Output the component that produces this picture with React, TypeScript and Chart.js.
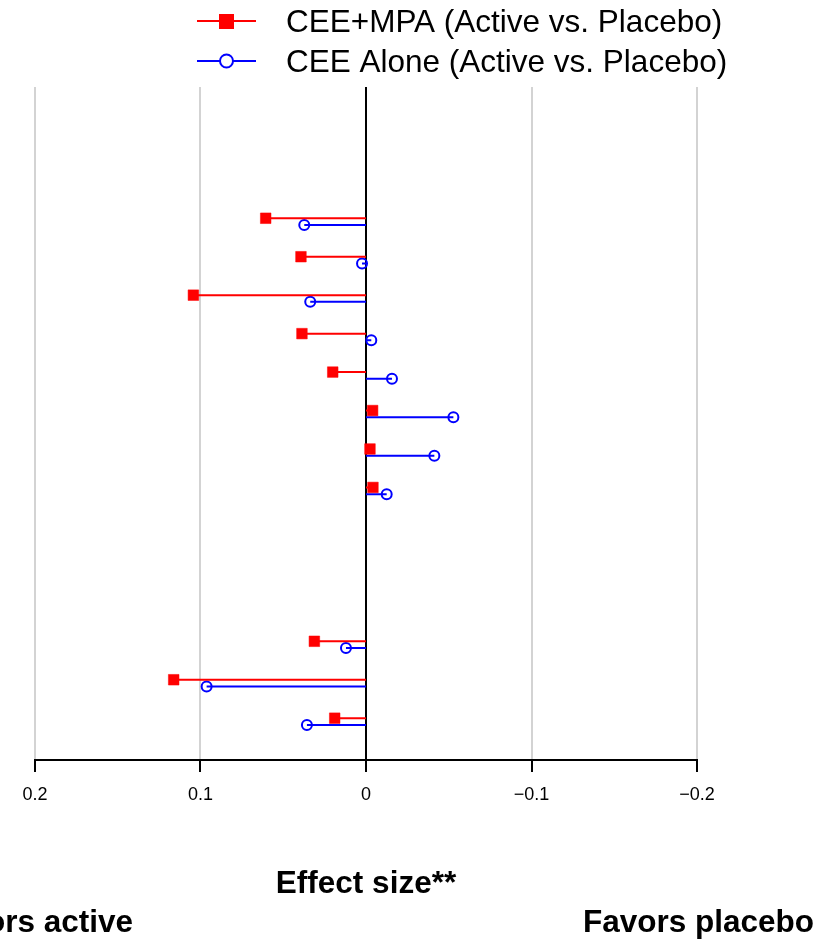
import React, { useEffect, useRef } from "react";
import { Chart, registerables } from "chart.js";

Chart.register(...registerables);

// Rows from top to bottom; null = empty row (no estimate shown)
const ceeMpaValues: (number | null)[] = [
  null, null, null,
  0.0606, 0.0393, 0.1043, 0.0387, 0.0201, -0.004, -0.0024, -0.0042,
  null, null, null,
  0.0312, 0.1162, 0.0189,
];
const ceeAloneValues: (number | null)[] = [
  null, null, null,
  0.0373, 0.0024, 0.0337, -0.0032, -0.0157, -0.0528, -0.0413, -0.0125,
  null, null, null,
  0.0121, 0.0963, 0.0357,
];
const seriesNames = ["CEE+MPA (Active vs. Placebo)", "CEE Alone (Active vs. Placebo)"];
const seriesColors = ["#ff0000", "#0000ff"];
const xTickValues = [0.2, 0.1, 0, -0.1, -0.2];
const xTickLabels = ["0.2", "0.1", "0", "\u22120.1", "\u22120.2"];
const xTitle = "Effect size**";
const leftNote = "Favors active";
const rightNote = "Favors placebo";

const FONT = "'Liberation Sans', Arial, Helvetica, sans-serif";

function buildSegments(vals: (number | null)[], offset: number) {
  const out: { x: number | null; y: number | null }[] = [];
  vals.forEach((v, i) => {
    if (v === null) return;
    out.push({ x: 0, y: i + offset }, { x: v, y: i + offset }, { x: null, y: null });
  });
  return out;
}

const textPlugin = {
  id: "textPlugin",
  afterDraw(chart: any) {
    const ctx = chart.ctx as CanvasRenderingContext2D;
    const area = chart.chartArea;
    ctx.save();
    // legend
    const rows = [32, 72];
    const markerY = [21, 61];
    for (let k = 0; k < 2; k++) {
      const y = markerY[k];
      ctx.strokeStyle = seriesColors[k];
      ctx.lineWidth = 2;
      ctx.beginPath();
      ctx.moveTo(197, y);
      ctx.lineTo(256, y);
      ctx.stroke();
      if (k === 0) {
        ctx.fillStyle = seriesColors[k];
        ctx.fillRect(219, y - 7, 15, 15);
      } else {
        ctx.fillStyle = "#ffffff";
        ctx.beginPath();
        ctx.arc(226.5, y, 6.5, 0, Math.PI * 2);
        ctx.fill();
        ctx.stroke();
      }
      ctx.fillStyle = "#000";
      ctx.font = `31.5px ${FONT}`;
      ctx.textAlign = "left";
      ctx.textBaseline = "alphabetic";
      ctx.fillText(seriesNames[k], 286, rows[k]);
    }
    // axis title & notes
    ctx.font = `bold 31.5px ${FONT}`;
    ctx.textAlign = "center";
    ctx.fillText(xTitle, (area.left + area.right) / 2, 893);
    ctx.textAlign = "right";
    ctx.fillText(leftNote, 133, 932);
    ctx.textAlign = "left";
    ctx.fillText(rightNote, 583, 932);
    ctx.restore();
  },
};

export default function App() {
  const ref = useRef<HTMLCanvasElement | null>(null);
  useEffect(() => {
    document.body.style.margin = "0";
    const canvas = ref.current;
    if (!canvas) return;
    const chart = new Chart(canvas, {
      type: "line",
      data: {
        datasets: [
          {
            label: seriesNames[0],
            data: buildSegments(ceeMpaValues, -0.087) as any,
            borderColor: seriesColors[0],
            backgroundColor: seriesColors[0],
            borderWidth: 2,
            pointStyle: "rect",
            pointRadius: (c: any) => (c.dataIndex % 3 === 1 ? 7.5 : 0),
            pointBorderWidth: 0.5,
            pointBackgroundColor: seriesColors[0],
            pointBorderColor: seriesColors[0],
            spanGaps: false,
          },
          {
            label: seriesNames[1],
            data: buildSegments(ceeAloneValues, 0.087) as any,
            borderColor: seriesColors[1],
            backgroundColor: "rgba(0,0,0,0)",
            borderWidth: 2,
            pointStyle: "circle",
            pointRadius: (c: any) => (c.dataIndex % 3 === 1 ? 5 : 0),
            pointBorderWidth: 2,
            pointBackgroundColor: "rgba(0,0,0,0)",
            pointBorderColor: seriesColors[1],
            spanGaps: false,
          },
        ],
      },
      options: {
        animation: false,
        responsive: false,
        devicePixelRatio: 1,
        layout: { padding: { left: 35, right: 122, top: 87, bottom: 0 } },
        plugins: {
          legend: { display: false },
          tooltip: { enabled: false },
        },
        scales: {
          x: {
            type: "linear",
            min: -0.2,
            max: 0.2,
            reverse: true,
            afterBuildTicks: (scale: any) => {
              scale.ticks = xTickValues.map((v) => ({ value: v }));
            },
            afterFit: (scale: any) => {
              scale.height = 180;
            },
            ticks: {
              autoSkip: false,
              maxRotation: 0,
              padding: 12,
              color: "#000",
              font: { family: FONT, size: 18 },
              callback: (value: any) => {
                const i = xTickValues.findIndex((t) => Math.abs(t - Number(value)) < 1e-9);
                return i >= 0 ? xTickLabels[i] : "";
              },
            },
            grid: {
              color: (c: any) => (c.tick && Math.abs(c.tick.value) < 1e-9 ? "#000000" : "#d3d3d3"),
              lineWidth: 2,
              drawTicks: true,
              tickLength: 12,
              tickColor: "#000000",
              tickWidth: 2,
            },
            border: { display: true, color: "#000000", width: 2 },
          },
          y: {
            type: "linear",
            min: -0.5,
            max: 17,
            reverse: true,
            display: false,
          },
        },
      },
      plugins: [textPlugin],
    } as any);
    return () => chart.destroy();
  }, []);
  return (
    <div style={{ position: "absolute", left: 0, top: 0, width: 819, height: 940, background: "#fff" }}>
      <canvas ref={ref} width={819} height={940} style={{ display: "block" }} />
    </div>
  );
}
